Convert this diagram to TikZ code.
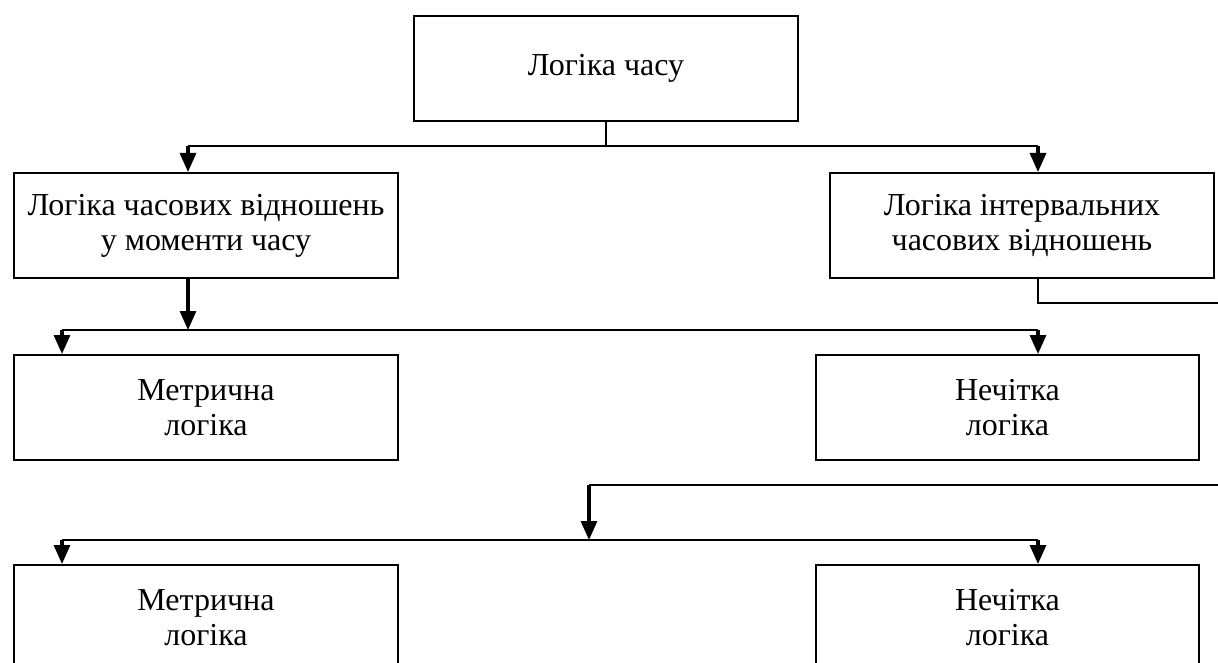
\documentclass[tikz,border=0pt]{standalone}
\usepackage{fontspec}
\setmainfont{Liberation Serif}
\usetikzlibrary{arrows.meta}
\begin{document}
\begin{tikzpicture}[x=1pt,y=-1pt,
  box/.style={draw, line width=2pt, minimum width=#1, minimum height=105pt,
    inner sep=0pt, align=center, anchor=north west,
    font=\fontsize{32}{35}\selectfont},
  link/.style={line width=2pt},
  arr/.style={line width=3.2pt, -{Triangle[length=19pt,width=16pt]}},
]
\useasboundingbox (0,0) rectangle (1218,663);
\clip (0,0) rectangle (1218,663);

% boxes
\node[box=384pt] (top) at (413,15)  {Логіка часу};
\node[box=384pt] (A)   at (13,172)  {Логіка часових відношень\\у моменти часу};
\node[box=384pt] (B)   at (829,172) {Логіка інтервальних\\часових відношень};
\node[box=384pt] (C)   at (13,354)  {Метрична\\логіка};
\node[box=383pt] (D)   at (815,354) {Нечітка\\логіка};
\node[box=384pt] (E)   at (13,564)  {Метрична\\логіка};
\node[box=383pt] (F)   at (815,564) {Нечітка\\логіка};

% junction points
\coordinate (j1)  at (605,146);
\coordinate (j1l) at (188,146);
\coordinate (j1r) at (1038,146);
\coordinate (j2)  at (188,330);
\coordinate (j2l) at (62,330);
\coordinate (j2r) at (1038,330);
\coordinate (loopA) at (1240,303);
\coordinate (loopB) at (589,485);
\coordinate (j3)  at (589,540);
\coordinate (j3l) at (62,540);
\coordinate (j3r) at (1038,540);

% first level
\draw[link] (top.south) -- (top.south |- j1);
\draw[link] (j1l) -- (j1r);
\draw[arr] (j1l) -- (j1l |- A.north);
\draw[arr] (j1r) -- (j1r |- B.north);

% second level
\draw[arr] (A.south -| j2) -- (j2);
\draw[link] (j2l) -- (j2r);
\draw[arr] (j2l) -- (j2l |- C.north);
\draw[arr] (j2r) -- (j2r |- D.north);

% third level, fed from the interval box
\draw[link] (B.south -| j1r) |- (loopA) |- (loopB);
\draw[arr] (loopB) -- (j3);
\draw[link] (j3l) -- (j3r);
\draw[arr] (j3l) -- (j3l |- E.north);
\draw[arr] (j3r) -- (j3r |- F.north);
\end{tikzpicture}
\end{document}
